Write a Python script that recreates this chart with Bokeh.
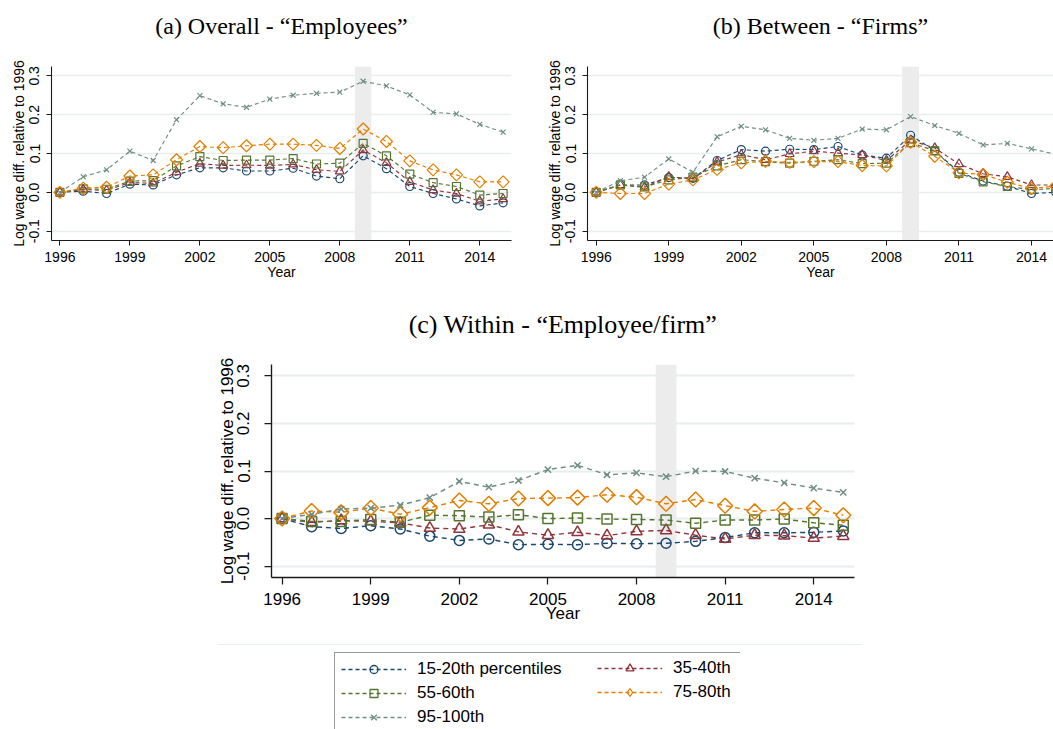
import math
from bokeh.plotting import figure
from bokeh.models import (FixedTicker, NumeralTickFormatter, BoxAnnotation, Range1d,
                          Legend, LegendItem, Spacer, Title)
from bokeh.layouts import column, row
from bokeh.embed import file_html
from bokeh.resources import INLINE

# ---------------- data ----------------
years = list(range(1996, 2016))
year_ticks = [1996, 1999, 2002, 2005, 2008, 2011, 2014]
value_ticks = [-0.1, 0.0, 0.1, 0.2, 0.3]
shade_years = [2008.65, 2009.35]

series_names = ["15-20th percentiles", "35-40th", "55-60th", "75-80th", "95-100th"]
series_colors = ["#1a476f", "#90353b", "#55752f", "#e37e00", "#6e8e84"]
series_markers = ["circle", "triangle", "square", "diamond", "x"]

# (a) Overall
overall_15_20 = [0.000, 0.003, -0.003, 0.021, 0.019, 0.045, 0.063, 0.063, 0.055, 0.055,
                 0.062, 0.042, 0.035, 0.094, 0.061, 0.015, -0.003, -0.017, -0.035, -0.027]
overall_35_40 = [0.000, 0.007, 0.005, 0.025, 0.023, 0.052, 0.074, 0.069, 0.070, 0.069,
                 0.072, 0.058, 0.054, 0.109, 0.076, 0.027, 0.006, -0.003, -0.023, -0.017]
overall_55_60 = [0.000, 0.009, 0.008, 0.029, 0.030, 0.068, 0.092, 0.082, 0.083, 0.083,
                 0.087, 0.073, 0.075, 0.126, 0.094, 0.047, 0.025, 0.015, -0.007, -0.003]
overall_75_80 = [0.000, 0.011, 0.013, 0.042, 0.045, 0.084, 0.118, 0.115, 0.120, 0.124,
                 0.124, 0.121, 0.113, 0.163, 0.131, 0.081, 0.058, 0.045, 0.027, 0.027]
overall_95_100 = [0.000, 0.040, 0.058, 0.106, 0.082, 0.187, 0.249, 0.228, 0.219, 0.240,
                  0.250, 0.255, 0.258, 0.286, 0.274, 0.251, 0.206, 0.202, 0.175, 0.155]

# (b) Between
between_15_20 = [0.000, 0.019, 0.019, 0.038, 0.036, 0.082, 0.110, 0.106, 0.111, 0.110,
                 0.118, 0.096, 0.088, 0.147, 0.107, 0.052, 0.029, 0.016, -0.003, 0.000]
between_35_40 = [0.000, 0.019, 0.013, 0.040, 0.035, 0.078, 0.097, 0.084, 0.099, 0.106,
                 0.101, 0.096, 0.082, 0.134, 0.114, 0.073, 0.048, 0.040, 0.019, 0.019]
between_55_60 = [0.000, 0.019, 0.014, 0.032, 0.039, 0.068, 0.084, 0.079, 0.075, 0.080,
                 0.084, 0.074, 0.075, 0.128, 0.107, 0.049, 0.027, 0.015, 0.007, 0.010]
between_75_80 = [0.000, -0.003, -0.003, 0.021, 0.032, 0.059, 0.076, 0.080, 0.077, 0.079,
                 0.079, 0.069, 0.068, 0.129, 0.093, 0.050, 0.046, 0.026, 0.010, 0.016]
between_95_100 = [0.000, 0.030, 0.039, 0.086, 0.052, 0.143, 0.170, 0.161, 0.139, 0.134,
                  0.139, 0.163, 0.161, 0.195, 0.172, 0.152, 0.122, 0.126, 0.112, 0.098]

# (c) Within
within_15_20 = [0.000, -0.017, -0.021, -0.015, -0.022, -0.037, -0.046, -0.043, -0.055, -0.054,
                -0.055, -0.052, -0.053, -0.052, -0.048, -0.040, -0.030, -0.030, -0.029, -0.026]
within_35_40 = [0.000, -0.008, -0.004, -0.006, -0.009, -0.020, -0.022, -0.013, -0.028, -0.035,
                -0.029, -0.036, -0.027, -0.025, -0.035, -0.043, -0.035, -0.036, -0.041, -0.037]
within_55_60 = [0.000, -0.006, -0.006, -0.002, -0.008, 0.007, 0.006, 0.003, 0.008, 0.000,
                0.001, -0.001, -0.002, -0.003, -0.010, -0.003, -0.003, -0.001, -0.009, -0.014]
within_75_80 = [0.000, 0.016, 0.013, 0.022, 0.009, 0.023, 0.038, 0.031, 0.042, 0.043,
                0.044, 0.050, 0.045, 0.031, 0.040, 0.027, 0.015, 0.019, 0.022, 0.007]
within_95_100 = [0.000, 0.009, 0.020, 0.022, 0.028, 0.044, 0.078, 0.066, 0.080, 0.103,
                 0.112, 0.092, 0.096, 0.088, 0.100, 0.099, 0.085, 0.075, 0.064, 0.055]

panel_titles = ["(a) Overall - \u201cEmployees\u201d",
                "(b) Between - \u201cFirms\u201d",
                "(c) Within - \u201cEmployee/firm\u201d"]
x_label = "Year"
y_label = "Log wage diff. relative to 1996"

SANS = "Liberation Sans"
SERIF = "Liberation Serif"
GRID = "#e6eef0"
AXIS = "#1a1a1a"


def marker_kw(i, size_scale, lw, legend=False):
    m = series_markers[i]
    if legend and m == "diamond":
        return dict(marker="diamond", size=17,
                    line_color=series_colors[i], fill_color=None, line_width=lw)
    base = {"circle": 8, "triangle": 9, "square": 8, "diamond": 8.5, "x": 7}[m]
    kw = dict(marker="square" if m == "diamond" else m, size=base * size_scale,
              line_color=series_colors[i], fill_color=None, line_width=lw)
    if m == "diamond":
        kw["angle"] = math.pi / 4
    return kw


def add_series(p, xs, ys, i, s):
    color = series_colors[i]
    dash = "4 3" if s < 1.1 else "5 4"
    p.line(xs, ys, line_color=color, line_width=1.15 * s, line_dash=dash)
    p.scatter(xs, ys, **marker_kw(i, s, 1.2 * s))


def make_panel(series, title, width, height, mb, x_end, s, title_size, gap_px,
               title_offset, font_px, tick_out, xl_stand, xal_stand, yl_stand, yal_stand):
    p = figure(width=width, height=height, output_backend="svg", toolbar_location=None,
               x_range=Range1d(1995.64, x_end), y_range=Range1d(-0.124, 0.324),
               min_border_left=mb[0], min_border_right=mb[1],
               min_border_top=mb[2], min_border_bottom=mb[3],
               outline_line_color=None, background_fill_color="white",
               border_fill_color="white")
    # blank spacer title nearest to the frame, then the real title above it
    p.add_layout(Title(text=" ", text_font_size=f"{gap_px}px", text_font=SERIF), "above")
    p.add_layout(Title(text=title, align="center", text_font=SERIF,
                       text_font_size=f"{title_size}px", text_font_style="normal",
                       text_color="black", offset=title_offset), "above")

    p.xgrid.visible = False
    p.ygrid.grid_line_color = GRID
    p.ygrid.grid_line_width = 1.5 * s
    p.ygrid.ticker = FixedTicker(ticks=value_ticks)

    p.add_layout(BoxAnnotation(left=shade_years[0], right=shade_years[1],
                               fill_color="#ececec", fill_alpha=1.0, line_color=None,
                               level="underlay"))

    p.xaxis.ticker = FixedTicker(ticks=year_ticks)
    p.yaxis.ticker = FixedTicker(ticks=value_ticks)
    p.yaxis.formatter = NumeralTickFormatter(format="0.0")
    p.yaxis.major_label_orientation = "vertical"
    for ax in (p.xaxis[0], p.yaxis[0]):
        ax.axis_line_color = AXIS
        ax.axis_line_width = 1.1 * s
        ax.major_tick_line_color = AXIS
        ax.major_tick_line_width = 1.0 * s
        ax.major_tick_out = tick_out
        ax.major_tick_in = 0
        ax.minor_tick_line_color = None
        ax.major_label_text_font = SANS
        ax.major_label_text_font_size = f"{font_px}px"
        ax.major_label_text_color = "black"
        ax.axis_label_text_font = SANS
        ax.axis_label_text_font_size = f"{font_px}px"
        ax.axis_label_text_font_style = "normal"
        ax.axis_label_text_color = "black"
    p.xaxis.axis_label = x_label
    p.yaxis.axis_label = y_label
    p.xaxis.major_label_standoff = xl_stand
    p.xaxis.axis_label_standoff = xal_stand
    p.yaxis.major_label_standoff = yl_stand
    p.yaxis.axis_label_standoff = yal_stand

    for i, ys in enumerate(series):
        add_series(p, years, ys, i, s)
    return p


within_series = [within_15_20, within_35_40, within_55_60, within_75_80, within_95_100]

pa = make_panel([overall_15_20, overall_35_40, overall_55_60, overall_75_80, overall_95_100],
                panel_titles[0], 530, 292, (51, 19, 66, 52), 2015.36, 1.0, 24, 10, 0,
                14, 5, 6, -1, 7, 0)
pb = make_panel([between_15_20, between_35_40, between_55_60, between_75_80, between_95_100],
                panel_titles[1], 523, 292, (57, 0, 66, 51), 2014.91, 1.0, 24, 10, 5,
                14, 5, 6, -1, 7, 0)
pc = make_panel(within_series,
                panel_titles[2], 674, 352, (71, 20, 72, 67), 2015.38, 1.25, 26, 8, 0,
                17, 7, 8, -4, 15, -2)

# ---------------- legend ----------------
leg = figure(width=408, height=77, output_backend="svg", toolbar_location=None,
             x_axis_type=None, y_axis_type=None, x_range=Range1d(0, 1), y_range=Range1d(0, 1),
             min_border_left=1, min_border_right=1, min_border_top=0, min_border_bottom=0,
             outline_line_color=None)
items = []
for i, name in enumerate(series_names):
    rl = leg.line(years, within_series[i], line_color=series_colors[i], line_width=1.3,
                  line_dash="4 3", visible=False)
    rm = leg.scatter(years, within_series[i], visible=False,
                     **marker_kw(i, 1.15, 1.3, legend=True))
    items.append(LegendItem(label=name, renderers=[rl, rm]))

common = dict(glyph_width=65, glyph_height=20, label_height=20, label_standoff=11,
              spacing=4, padding=6, margin=0, label_text_font=SANS,
              label_text_font_size="17px", label_text_color="black")
legend1 = Legend(items=[items[0], items[2], items[4]], location="top_left",
                 label_width=318, border_line_color="#333333", border_line_width=1.2,
                 background_fill_color="white", background_fill_alpha=1.0, **common)
legend2 = Legend(items=[items[1], items[3]], location="top_right", label_width=61,
                 border_line_color="white", border_line_alpha=0.0,
                 background_fill_alpha=0.0, **common)
leg.add_layout(legend1)
leg.add_layout(legend2)

layout = column(
    row(pa, pb),
    row(Spacer(width=200, height=352), pc),
    row(Spacer(width=218, height=1),
        Spacer(width=644, height=1, styles={"background-color": "#e6eef0"})),
    Spacer(width=10, height=7),
    row(Spacer(width=333, height=77), leg),
)

open("out.html", "w").write(file_html(layout, INLINE))
